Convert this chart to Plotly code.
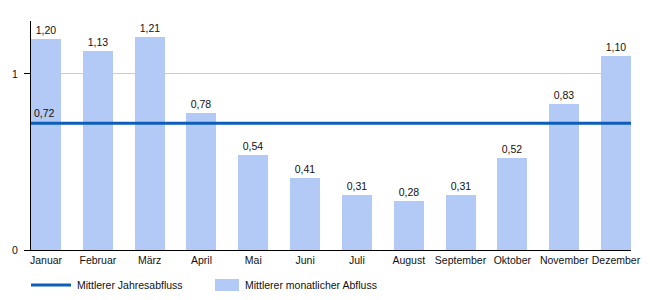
import plotly.graph_objects as go

months = ["Januar", "Februar", "März", "April", "Mai", "Juni", "Juli",
          "August", "September", "Oktober", "November", "Dezember"]
monthly = [1.20, 1.13, 1.21, 0.78, 0.54, 0.41, 0.31, 0.28, 0.31, 0.52, 0.83, 1.10]
annual_mean = 0.72
y_ticks = [0, 1]
y_ticklabels = ["0", "1"]
line_name = "Mittlerer Jahresabfluss"
bar_name = "Mittlerer monatlicher Abfluss"

def fmt(v):
    return f"{v:.2f}".replace(".", ",")

bar_w = 0.58
xs = list(range(len(months)))
x_range = [-bar_w / 2, len(months) - 1 + bar_w / 2]

font_family = "Liberation Sans, Arial, sans-serif"
fs = 10.5
bar_color = "#b3c9f6"
line_color = "#0d5dbb"
txt_color = "#111"

W, H = 650, 300
ml, mr, mt, mb = 31, 19, 21, 50

fig = go.Figure()
fig.add_trace(go.Bar(
    x=xs, y=monthly, width=bar_w,
    marker=dict(color=bar_color, line=dict(width=0)),
    text=[fmt(v) for v in monthly], textposition="outside",
    textfont=dict(size=fs, color=txt_color, family=font_family),
    name=bar_name, cliponaxis=False, showlegend=False,
))
fig.add_trace(go.Scatter(
    x=x_range, y=[annual_mean, annual_mean], mode="lines",
    line=dict(color=line_color, width=3),
    name=line_name, hoverinfo="skip", showlegend=False,
))

fig.add_annotation(
    xref="paper", x=0, yref="y", y=annual_mean, text=fmt(annual_mean),
    showarrow=False, xanchor="left", yanchor="bottom", xshift=1, yshift=2,
    font=dict(size=fs, color=txt_color, family=font_family),
)

# manual legend (paper coordinates derived from pixel layout)
pw, ph = W - ml - mr, H - mt - mb
def px_x(p):
    return (p - ml) / pw
def px_y(p):
    return (H - mb - p) / ph

leg_y = 285
fig.add_shape(type="line", xref="paper", yref="paper",
              x0=px_x(31), x1=px_x(71), y0=px_y(leg_y), y1=px_y(leg_y),
              line=dict(color=line_color, width=3))
fig.add_annotation(xref="paper", yref="paper", x=px_x(75), y=px_y(leg_y),
                   text=line_name, showarrow=False, xanchor="left", yanchor="middle",
                   font=dict(size=fs, color=txt_color, family=font_family))
fig.add_shape(type="rect", xref="paper", yref="paper",
              x0=px_x(215), x1=px_x(239), y0=px_y(291), y1=px_y(279),
              line=dict(width=0), fillcolor=bar_color)
fig.add_annotation(xref="paper", yref="paper", x=px_x(243), y=px_y(leg_y),
                   text=bar_name, showarrow=False, xanchor="left", yanchor="middle",
                   font=dict(size=fs, color=txt_color, family=font_family))

fig.update_layout(
    width=W, height=H,
    margin=dict(l=ml, r=mr, t=mt, b=mb),
    plot_bgcolor="white", paper_bgcolor="white",
    font=dict(family=font_family, size=fs, color=txt_color),
    showlegend=False,
    bargap=0,
)
fig.update_xaxes(
    range=x_range, tickvals=xs, ticktext=months, showgrid=False,
    showline=True, linecolor="#000", linewidth=1, ticks="", zeroline=False,
    tickfont=dict(size=fs, color=txt_color), automargin=False,
)
fig.update_yaxes(
    range=[0, 1.3], tickvals=y_ticks, ticktext=y_ticklabels,
    showgrid=True, gridcolor="#cccccc", gridwidth=1,
    showline=True, linecolor="#000", linewidth=1,
    ticks="outside", ticklen=6, tickcolor="#000", zeroline=False,
    tickfont=dict(size=fs, color=txt_color), automargin=False,
    ticklabelstandoff=4,
)

fig.write_html("out.html")
